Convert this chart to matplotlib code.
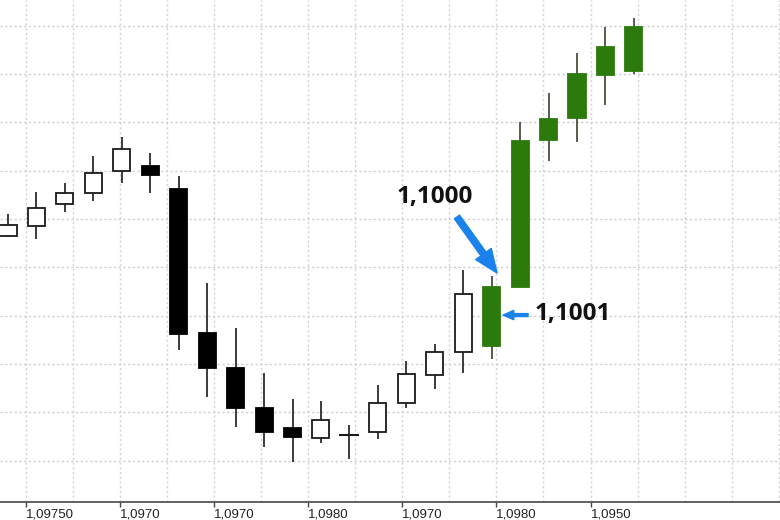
import matplotlib
matplotlib.use("Agg")
import matplotlib.pyplot as plt
from matplotlib.patches import FancyArrowPatch
import numpy as np

# ---- data (price in points, grid step = 10) ----
opens  = [56.5, 58.6, 63.1, 65.4, 69.9, 71.0, 66.2, 36.4, 29.2, 20.9, 16.7, 14.7,
          15.3, 15.9, 21.9, 27.7, 32.5, 33.7, 45.9, 76.4, 80.9, 89.8, 90.6]
highs  = [61.0, 65.6, 67.5, 73.0, 77.0, 73.7, 68.9, 46.8, 37.4, 28.1, 22.7, 22.3,
          17.4, 25.6, 30.6, 34.1, 49.4, 48.2, 80.1, 86.1, 94.4, 99.8, 101.6]
lows   = [56.3, 55.9, 61.5, 63.7, 67.5, 65.4, 32.9, 23.1, 16.9, 12.8, 9.7, 13.6,
          10.3, 14.5, 20.9, 24.8, 28.1, 31.0, 45.9, 72.0, 75.9, 83.6, 90.0]
closes = [58.8, 62.3, 65.4, 69.5, 74.5, 69.1, 36.2, 29.2, 20.9, 15.9, 14.9, 18.4,
          15.3, 21.9, 27.9, 32.5, 44.5, 45.9, 76.2, 80.7, 90.0, 95.6, 99.8]
highlight_from = 17  # candles drawn green

tick_labels = ["1,09750", "1,0970", "1,0970", "1,0980", "1,0970", "1,0980", "1,0950"]
label_top = "1,1000"
label_side = "1,1001"

# ---- figure ----
fig = plt.figure(figsize=(7.8, 5.2), dpi=100)
ax = fig.add_axes([0, 0.0346, 1, 0.9654])

n = len(opens)
x = np.arange(n)
ax.set_xlim(-0.281, 27.135)
ax.set_ylim(1.41, 105.3)

green = "#2c7a0c"
body_w = 0.6
for i in range(n):
    o, h, l, c = opens[i], highs[i], lows[i], closes[i]
    if i >= highlight_from:
        wick_c, face, edge = "#3a4230", green, green
    elif c > o:
        wick_c, face, edge = "#1a1a1a", "white", "#1a1a1a"
    else:
        wick_c, face, edge = "#1a1a1a", "black", "black"
    ax.vlines(x[i], l, h, color=wick_c, lw=1.2, zorder=2)
    if abs(c - o) < 0.05:
        ax.hlines(o, x[i] - body_w / 2 - 0.05, x[i] + body_w / 2 + 0.05,
                  color="#1a1a1a", lw=1.5, zorder=3)
    else:
        ax.bar(x[i], abs(c - o), bottom=min(o, c), width=body_w,
               facecolor=face, edgecolor=edge, linewidth=1.3, zorder=3)

# ---- grid & axes ----
tick_pos = 0.633 + 3.307 * np.arange(len(tick_labels))
grid_x = 0.633 + 1.6535 * np.arange(17)
for gx in grid_x:
    ax.axvline(gx, color="#d4d4d4", lw=1.0, ls=(0, (1.6, 1.8)), zorder=0)
for gy in np.arange(10, 101, 10):
    ax.axhline(gy, color="#cdcdcd", lw=1.0, ls=(0, (1.6, 1.8)), zorder=0)

ax.set_xticks(tick_pos)
ax.set_xticklabels(tick_labels, ha="left", family="Liberation Sans", fontsize=9.5,
                   color="#222222")
ax.tick_params(axis="x", direction="out", length=3.5, width=1, color="#444444", pad=1.5)
ax.set_yticks([])
for s in ["top", "right", "left"]:
    ax.spines[s].set_visible(False)
ax.spines["bottom"].set_color("#555555")
ax.spines["bottom"].set_linewidth(1.3)

# ---- annotations ----
blue = "#1a82ea"
ax.text(15.01, 63.3, label_top, fontsize=17.5, fontweight="bold", family="Open Sans",
        color="#111111", ha="center", va="baseline", zorder=5)
ax.text(18.52, 39.1, label_side, fontsize=17.5, fontweight="bold", family="Open Sans",
        color="#111111", ha="left", va="baseline", zorder=5)

a1 = FancyArrowPatch((15.78, 60.4), (17.19, highs[17] + 0.6),
                     arrowstyle="simple,head_length=1.4,head_width=1.15,tail_width=0.38",
                     mutation_scale=12, color=blue, shrinkA=0, shrinkB=0, zorder=6)
ax.add_patch(a1)
mid17 = (opens[17] + closes[17]) / 2
a2 = FancyArrowPatch((18.28, mid17 + 0.3), (17.40, mid17 + 0.3),
                     arrowstyle="simple,head_length=1.1,head_width=0.95,tail_width=0.3",
                     mutation_scale=7, color=blue, shrinkA=0, shrinkB=0, zorder=6)
ax.add_patch(a2)

fig.savefig("out.png", dpi=100, facecolor="white")
